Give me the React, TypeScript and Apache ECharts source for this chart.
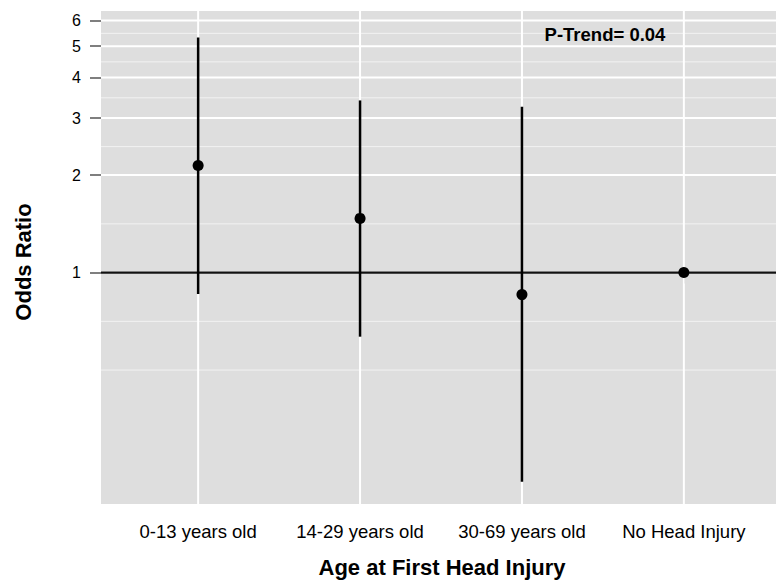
import React, { useEffect, useRef } from "react";
import * as echarts from "echarts";

const categories = ["0-13 years old", "14-29 years old", "30-69 years old", "No Head Injury"];
const oddsRatio = [2.14, 1.47, 0.855, 1.0];
const ciLower = [0.859, 0.634, 0.226, 1.0];
const ciUpper = [5.32, 3.4, 3.25, 1.0];
const yBreaks = [1, 2, 3, 4, 5, 6];
const yMinorBreaks = [0.5, 0.707, 1.414, 2.449, 3.464, 4.472, 5.477];
const yLimits = [0.193, 6.42];
const xLimits = [0.4, 4.6];
const referenceLine = 1;
const pTrendText = "P-Trend= 0.04";

const FONT = "'Liberation Sans', Arial, Helvetica, sans-serif";
const lg = (v: number) => Math.log10(v);

export default function App() {
  const ref = useRef<HTMLDivElement>(null);
  useEffect(() => {
    document.body.style.margin = "0";
    if (!ref.current) return;
    const chart = echarts.init(ref.current, null, { renderer: "svg" });
    const catPos = categories.map((_, i) => i + 1);

    const hGrid = [
      ...yMinorBreaks.map((v) => [1, lg(v), 1]),
      ...yBreaks.map((v) => [1, lg(v), 2]),
    ];

    chart.setOption({
      animation: false,
      textStyle: { fontFamily: FONT },
      grid: {
        left: 101,
        top: 11,
        right: -5,
        bottom: 81,
        show: true,
        backgroundColor: "#DEDEDE",
        borderWidth: 0,
        containLabel: false,
        outerBoundsMode: "none",
      },
      xAxis: {
        type: "value",
        min: xLimits[0],
        max: xLimits[1],
        axisLine: { show: false },
        splitLine: { show: false },
        axisTick: {
          show: true,
          customValues: catPos,
          length: 11,
          lineStyle: { color: "#7F7F7F", width: 2 },
        },
        axisLabel: {
          customValues: catPos,
          formatter: (v: number) => categories[Math.round(v) - 1] ?? "",
          fontSize: 18.5,
          color: "#000",
          margin: 18,
          fontFamily: FONT,
        },
      },
      yAxis: {
        type: "value",
        min: lg(yLimits[0]),
        max: lg(yLimits[1]),
        axisLine: { show: false },
        splitLine: { show: false },
        axisTick: {
          show: true,
          customValues: yBreaks.map(lg),
          length: 11,
          lineStyle: { color: "#7F7F7F", width: 2 },
        },
        axisLabel: {
          customValues: yBreaks.map(lg),
          formatter: (v: number) => String(Math.round(Math.pow(10, v))),
          fontSize: 16,
          color: "#000",
          margin: 20,
          fontFamily: FONT,
        },
      },
      graphic: [
        {
          type: "text",
          x: 442,
          y: 567,
          style: {
            text: "Age at First Head Injury",
            font: `bold 22px ${FONT}`,
            fill: "#000",
            textAlign: "center",
            textVerticalAlign: "middle",
          },
        },
        {
          type: "text",
          x: 23,
          y: 262,
          rotation: Math.PI / 2,
          style: {
            text: "Odds Ratio",
            font: `bold 22px ${FONT}`,
            fill: "#000",
            textAlign: "center",
            textVerticalAlign: "middle",
          },
        },
        {
          type: "text",
          x: 605,
          y: 34,
          z: 100,
          style: {
            text: pTrendText,
            font: `bold 18.5px ${FONT}`,
            fill: "#000",
            textAlign: "center",
            textVerticalAlign: "middle",
          },
        },
      ],
      series: [
        {
          type: "custom",
          name: "hgrid",
          z: 1,
          silent: true,
          clip: false,
          encode: { x: 0, y: 1 },
          data: hGrid,
          renderItem: (params: any, api: any) => {
            const y = api.coord([1, api.value(1)])[1];
            const cs = params.coordSys;
            const major = api.value(2) > 1.5;
            return {
              type: "line",
              shape: { x1: cs.x, y1: y, x2: cs.x + cs.width, y2: y },
              style: { stroke: major ? "#FFFFFF" : "#F2F2F2", lineWidth: major ? 2 : 1 },
            };
          },
        },
        {
          type: "custom",
          name: "vgrid",
          z: 1,
          silent: true,
          encode: { x: 0, y: 1 },
          data: catPos.map((p) => [p, 0]),
          renderItem: (params: any, api: any) => {
            const x = api.coord([api.value(0), 0])[0];
            const cs = params.coordSys;
            return {
              type: "line",
              shape: { x1: x, y1: cs.y, x2: x, y2: cs.y + cs.height },
              style: { stroke: "#FFFFFF", lineWidth: 2 },
            };
          },
        },
        {
          type: "custom",
          name: "ref",
          z: 2,
          silent: true,
          encode: { x: 0, y: 1 },
          data: [[1, lg(referenceLine)]],
          renderItem: (params: any, api: any) => {
            const y = api.coord([1, api.value(1)])[1];
            const cs = params.coordSys;
            return {
              type: "line",
              shape: { x1: cs.x, y1: y, x2: cs.x + cs.width, y2: y },
              style: { stroke: "#111", lineWidth: 2.2 },
            };
          },
        },
        {
          type: "custom",
          name: "ci",
          z: 3,
          silent: true,
          encode: { x: 0, y: [1, 2] },
          data: catPos.map((p, i) => [p, lg(ciLower[i]), lg(ciUpper[i])]),
          renderItem: (params: any, api: any) => {
            const lo = api.coord([api.value(0), api.value(1)]);
            const hi = api.coord([api.value(0), api.value(2)]);
            return {
              type: "line",
              shape: { x1: lo[0], y1: lo[1], x2: hi[0], y2: hi[1] },
              style: { stroke: "#000", lineWidth: 2.5 },
            };
          },
        },
        {
          type: "scatter",
          name: "or",
          z: 4,
          silent: true,
          symbol: "circle",
          symbolSize: 11,
          itemStyle: { color: "#000", opacity: 1 },
          data: catPos.map((p, i) => [p, lg(oddsRatio[i])]),
        },
      ],
    });
    return () => chart.dispose();
  }, []);
  return <div ref={ref} style={{ width: 776, height: 585 }} />;
}
